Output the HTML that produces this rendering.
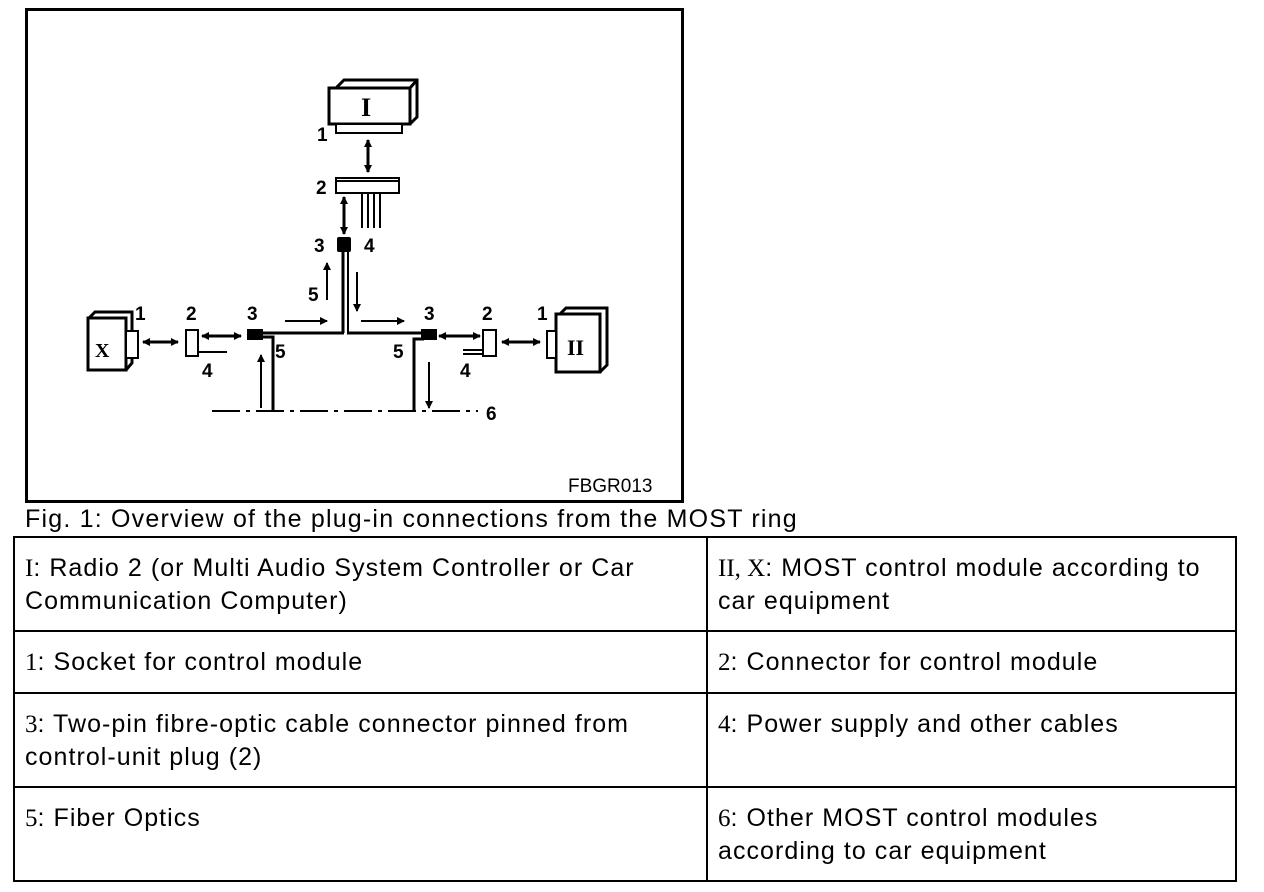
<!DOCTYPE html>
<html><head><style>
body{margin:0;width:1264px;height:892px;background:#fff;position:relative;overflow:hidden;font-family:"Liberation Sans",Arial,sans-serif;}
#fr{position:absolute;left:25px;top:8px;width:653px;height:489px;border:3px solid #000;}
.cap{position:absolute;left:25px;top:505px;font-size:25px;letter-spacing:1.2px;white-space:nowrap;}
table{position:absolute;left:13px;top:536px;width:1224px;border-collapse:collapse;}
td{border:2px solid #000;vertical-align:top;font-size:25px;line-height:33px;padding:14px 10px 4px 10px;letter-spacing:1.05px;}
td+td{padding-right:30px;}
.s{font-family:"Liberation Serif",serif;letter-spacing:0;}
</style></head><body>
<div id="fr"></div>
<svg width="1264" height="892" style="position:absolute;left:0;top:0" font-family="Liberation Sans,Arial,sans-serif" font-weight="bold" font-size="19">
<defs>
<marker id="a" markerWidth="8" markerHeight="8" refX="7" refY="4" orient="auto" markerUnits="userSpaceOnUse"><path d="M0,0L8,4L0,8z"/></marker>
<marker id="b" markerWidth="8" markerHeight="8" refX="1" refY="4" orient="auto" markerUnits="userSpaceOnUse"><path d="M8,0L0,4L8,8z"/></marker>
</defs>
<g stroke="#000" stroke-width="3" fill="#fff">
<path d="M336,88L344,80H417V117L410,124" />
<path d="M410,88L417,80" />
<rect x="329" y="88" width="81" height="36"/>
<rect x="336" y="124" width="66" height="9" stroke-width="2"/>
<rect x="336" y="178" width="63" height="15" stroke-width="2"/>
<line x1="336" y1="181" x2="399" y2="181" stroke-width="2"/>
<path d="M89,318L95,312H132V363L126,370" />
<rect x="88" y="318" width="38" height="52"/>
<rect x="126" y="331" width="12" height="27" stroke-width="2"/>
<rect x="186" y="330" width="12" height="26" stroke-width="2"/>
<path d="M560,314L566,308H607V365L600,372"/>
<rect x="556" y="314" width="44" height="58"/>
<rect x="547" y="331" width="9" height="27" stroke-width="2"/>
<rect x="483" y="330" width="13" height="26" stroke-width="2"/>
</g>
<g stroke="#000" fill="none" stroke-width="2">
<line x1="362" y1="193" x2="362" y2="228"/><line x1="368" y1="193" x2="368" y2="228"/><line x1="374" y1="193" x2="374" y2="228"/><line x1="380" y1="193" x2="380" y2="228"/>
<line x1="368" y1="140" x2="368" y2="172" marker-start="url(#b)" marker-end="url(#a)" stroke-width="3"/>
<line x1="344" y1="197" x2="344" y2="234" marker-start="url(#b)" marker-end="url(#a)" stroke-width="3"/>
<line x1="343" y1="252" x2="343" y2="333" stroke-width="3"/>
<line x1="348" y1="252" x2="348" y2="333" stroke-width="2"/>
<line x1="262" y1="333" x2="344" y2="333" stroke-width="3"/>
<line x1="347" y1="333" x2="424" y2="333" stroke-width="3"/>
<line x1="327" y1="300" x2="327" y2="263" marker-end="url(#a)"/>
<line x1="357" y1="272" x2="357" y2="311" marker-end="url(#a)"/>
<line x1="285" y1="321" x2="327" y2="321" marker-end="url(#a)"/>
<line x1="361" y1="321" x2="404" y2="321" marker-end="url(#a)"/>
<polyline points="262,337 273,337 273,410" stroke-width="3"/>
<polyline points="424,339 414,339 414,410" stroke-width="3"/>
<line x1="261" y1="408" x2="261" y2="355" marker-end="url(#a)"/>
<line x1="429" y1="362" x2="429" y2="408" marker-end="url(#a)"/>
<line x1="212" y1="411" x2="478" y2="411" stroke-dasharray="28,6,4,6"/>
<line x1="143" y1="342" x2="178" y2="342" marker-start="url(#b)" marker-end="url(#a)" stroke-width="3"/>
<line x1="202" y1="336" x2="241" y2="336" marker-start="url(#b)" marker-end="url(#a)" stroke-width="3"/>
<line x1="198" y1="352" x2="227" y2="352"/>
<line x1="439" y1="336" x2="480" y2="336" marker-start="url(#b)" marker-end="url(#a)" stroke-width="3"/>
<line x1="463" y1="350" x2="483" y2="350"/><line x1="463" y1="354" x2="483" y2="354"/>
<line x1="502" y1="342" x2="540" y2="342" marker-start="url(#b)" marker-end="url(#a)" stroke-width="3"/>
</g>
<rect x="337" y="237" width="14" height="15" rx="2"/>
<rect x="247" y="329" width="16" height="11"/>
<rect x="421" y="329" width="16" height="11"/>
<g font-family="Liberation Serif,serif" font-size="26">
<text x="361" y="116">I</text><text x="95" y="357" font-size="20">X</text><text x="567" y="355" font-size="22">II</text></g>
<text x="317" y="141">1</text><text x="316" y="194">2</text><text x="314" y="252">3</text><text x="364" y="252">4</text>
<text x="308" y="301">5</text>
<text x="135" y="320">1</text><text x="186" y="320">2</text><text x="247" y="320">3</text><text x="202" y="377">4</text><text x="275" y="358">5</text>
<text x="393" y="358">5</text><text x="424" y="320">3</text><text x="482" y="320">2</text><text x="537" y="320">1</text><text x="460" y="377">4</text>
<text x="486" y="420">6</text>
<text x="568" y="492" font-weight="normal" font-size="19">FBGR013</text>
</svg>
<div class="cap">Fig. 1: Overview of the plug-in connections from the MOST ring</div>
<table>
<tr style="height:94px"><td style="width:671px"><span class="s">I</span>: Radio 2 (or Multi Audio System Controller or Car Communication Computer)</td><td><span class="s">II, X</span>: MOST control module according to car equipment</td></tr>
<tr style="height:62px"><td><span class="s">1</span>: Socket for control module</td><td><span class="s">2</span>: Connector for control module</td></tr>
<tr style="height:94px"><td><span class="s">3</span>: Two-pin fibre-optic cable connector pinned from control-unit plug (2)</td><td><span class="s">4</span>: Power supply and other cables</td></tr>
<tr style="height:94px"><td><span class="s">5</span>: Fiber Optics</td><td><span class="s">6</span>: Other MOST control modules according to car equipment</td></tr>
</table>
</body></html>
